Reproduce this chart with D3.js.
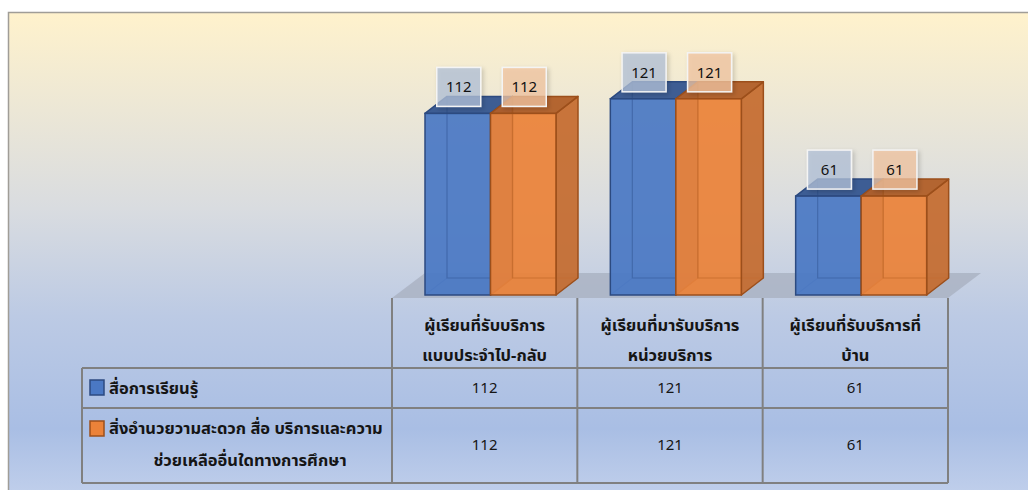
<!DOCTYPE html>
<html>
<head>
<meta charset="utf-8">
<script src="https://cdn.jsdelivr.net/npm/d3@7"></script>
<style>
  body { margin: 0; background: #fff; }
  svg { display: block; font-family: Tahoma, "Noto Sans Thai", "Noto Sans", "DejaVu Sans", sans-serif; }
</style>
</head>
<body>
<svg id="chart" width="1028" height="490"></svg>
<script>
// category labels (two lines each)
const categories = [
  ["ผู้เรียนที่รับบริการ", "แบบประจำไป-กลับ"],
  ["ผู้เรียนที่มารับบริการ", "หน่วยบริการ"],
  ["ผู้เรียนที่รับบริการที่", "บ้าน"]
];
const seriesNames = [
  ["สื่อการเรียนรู้"],
  ["สิ่งอำนวยวามสะดวก สื่อ บริการและความ", "ช่วยเหลืออื่นใดทางการศึกษา"]
];
const mediaValues = [112, 121, 61];
const facilityValues = [112, 121, 61];

const series = [
  { name: seriesNames[0], values: mediaValues, front: "#4a78c4", side: "#3c63a6", top: "#34558f", stroke: "#2c4a80", label: "#b3c2d8" },
  { name: seriesNames[1], values: facilityValues, front: "#eb8239", side: "#c46a2e", top: "#b05e27", stroke: "#9c4f1b", label: "#f1c6a2" }
];

const svg = d3.select("#chart");
const defs = svg.append("defs");

// background gradient
const grad = defs.append("linearGradient").attr("id", "bg")
  .attr("x1", 0).attr("y1", 0).attr("x2", 0).attr("y2", 1);
[["0%", "#fff2cc"], ["40%", "#d9dce0"], ["62%", "#bccae4"], ["85%", "#a9bee4"], ["100%", "#c3d1ec"]]
  .forEach(s => grad.append("stop").attr("offset", s[0]).attr("stop-color", s[1]));

const shadow = defs.append("filter").attr("id", "shadow")
  .attr("x", "-30%").attr("y", "-30%").attr("width", "160%").attr("height", "160%");
shadow.append("feDropShadow").attr("dx", 2).attr("dy", 2).attr("stdDeviation", 2)
  .attr("flood-color", "#000").attr("flood-opacity", 0.2);

svg.append("rect").attr("x", 8.5).attr("y", 12.5).attr("width", 1030).attr("height", 490)
  .attr("fill", "url(#bg)").attr("stroke", "#a09d97").attr("stroke-width", 1.5);

// scales
const tableLeft = 82, colLeft = 392, colRight = 948;
const x0 = d3.scaleBand().domain(d3.range(categories.length)).range([colLeft, colRight]);
const x1 = d3.scaleBand().domain(d3.range(series.length)).range([33, 164]);
const y = d3.scaleLinear().domain([0, 140]).range([295, 68]);

const depthX = 22, depthY = -17;
const floorX = 33, floorY = -25, floorFront = 298;

// floor
svg.append("path")
  .attr("d", `M${colLeft},${floorFront} L${colRight},${floorFront} L${colRight + floorX},${floorFront + floorY} L${colLeft + floorX},${floorFront + floorY} Z`)
  .attr("fill", "#a7afbf").attr("opacity", 0.75);

// bars
const bars = [];
categories.forEach((c, i) => {
  series.forEach((s, j) => {
    bars.push({ i, j, s, v: s.values[i] });
  });
});

const barG = svg.append("g");
bars.forEach(b => {
  const xl = x0(b.i) + x1(b.j);
  const w = x1.bandwidth();
  const yt = y(b.v), yb = y(0);
  const g = barG.append("g");
  // back edges seen through the transparent box
  g.append("path")
    .attr("d", `M${xl + depthX},${yt + depthY} L${xl + depthX},${yb + depthY} L${xl + w + depthX},${yb + depthY} M${xl},${yb} L${xl + depthX},${yb + depthY}`)
    .attr("fill", "none").attr("stroke", b.s.stroke).attr("stroke-opacity", 0.45).attr("stroke-width", 1.2);
  // side
  g.append("path")
    .attr("d", `M${xl + w},${yt} L${xl + w + depthX},${yt + depthY} L${xl + w + depthX},${yb + depthY} L${xl + w},${yb} Z`)
    .attr("fill", b.s.side).attr("fill-opacity", 0.92).attr("stroke", b.s.stroke).attr("stroke-width", 1.5).attr("stroke-linejoin", "round");
  // top
  g.append("path")
    .attr("d", `M${xl},${yt} L${xl + depthX},${yt + depthY} L${xl + w + depthX},${yt + depthY} L${xl + w},${yt} Z`)
    .attr("fill", b.s.top).attr("fill-opacity", 0.95).attr("stroke", b.s.stroke).attr("stroke-width", 1.5).attr("stroke-linejoin", "round");
  // front
  g.append("rect")
    .attr("x", xl).attr("y", yt).attr("width", w).attr("height", yb - yt)
    .attr("fill", b.s.front).attr("fill-opacity", 0.93).attr("stroke", b.s.stroke).attr("stroke-width", 1.5);
  // inner back edges over front (transparency look)
  g.append("path")
    .attr("d", `M${xl + depthX},${yt + depthY + 1} L${xl + depthX},${yb + depthY} L${xl + w},${yb + depthY}`)
    .attr("fill", "none").attr("stroke", b.s.stroke).attr("stroke-opacity", 0.35).attr("stroke-width", 1.2);
});

// value labels
bars.forEach(b => {
  const cx = x0(b.i) + x1(b.j) + x1.bandwidth() / 2 + 1;
  const cy = y(b.v) - 27;
  const g = svg.append("g");
  g.append("rect").attr("x", cx - 22).attr("y", cy - 19).attr("width", 44).attr("height", 39)
    .attr("fill", b.s.label).attr("fill-opacity", 0.75)
    .attr("stroke", "#f4f4f4").attr("stroke-width", 1.5).attr("filter", "url(#shadow)");
  g.append("text").attr("x", cx).attr("y", cy + 6).attr("text-anchor", "middle")
    .attr("font-size", 15).attr("fill", "#111").text(b.v);
});

// data table
const headerTop = 298, row1Top = 368, row2Top = 408, tableBottom = 483;
const grid = svg.append("g").attr("stroke", "#808080").attr("stroke-width", 2).attr("fill", "none");
grid.append("path").attr("d", `M${tableLeft},${row1Top} L${colRight},${row1Top}`);
grid.append("path").attr("d", `M${tableLeft},${row2Top} L${colRight},${row2Top}`);
grid.append("path").attr("d", `M${tableLeft},${tableBottom} L${colRight},${tableBottom}`);
grid.append("path").attr("d", `M${tableLeft},${row1Top} L${tableLeft},${tableBottom}`);
d3.range(categories.length + 1).forEach(k => {
  const xx = k < categories.length ? x0(k) : colRight;
  grid.append("path").attr("d", `M${xx},${headerTop} L${xx},${tableBottom}`);
});

const txt = svg.append("g").attr("font-size", 16.5).attr("font-weight", "bold").attr("fill", "#151515");
categories.forEach((c, i) => {
  const cx = x0(i) + x0.bandwidth() / 2;
  c.forEach((line, k) => {
    txt.append("text").attr("x", cx).attr("y", 331 + k * 30).attr("text-anchor", "middle").text(line);
  });
  txt.append("text").attr("x", cx).attr("y", 393).attr("text-anchor", "middle")
    .attr("font-size", 15).attr("font-weight", "normal").text(mediaValues[i]);
  txt.append("text").attr("x", cx).attr("y", 450).attr("text-anchor", "middle")
    .attr("font-size", 15).attr("font-weight", "normal").text(facilityValues[i]);
});

// legend keys in table rows
const rowText = [[394], [434, 466]];
series.forEach((s, j) => {
  const sy = j === 0 ? 380 : 421;
  svg.append("rect").attr("x", 90).attr("y", sy).attr("width", 14).attr("height", 15)
    .attr("fill", s.front).attr("stroke", s.stroke).attr("stroke-width", 1.5);
  s.name.forEach((line, k) => {
    if (k === 0) {
      txt.append("text").attr("x", 109).attr("y", rowText[j][k]).text(line);
    } else {
      txt.append("text").attr("x", 250).attr("y", rowText[j][k]).attr("text-anchor", "middle").text(line);
    }
  });
});
</script>
</body>
</html>
